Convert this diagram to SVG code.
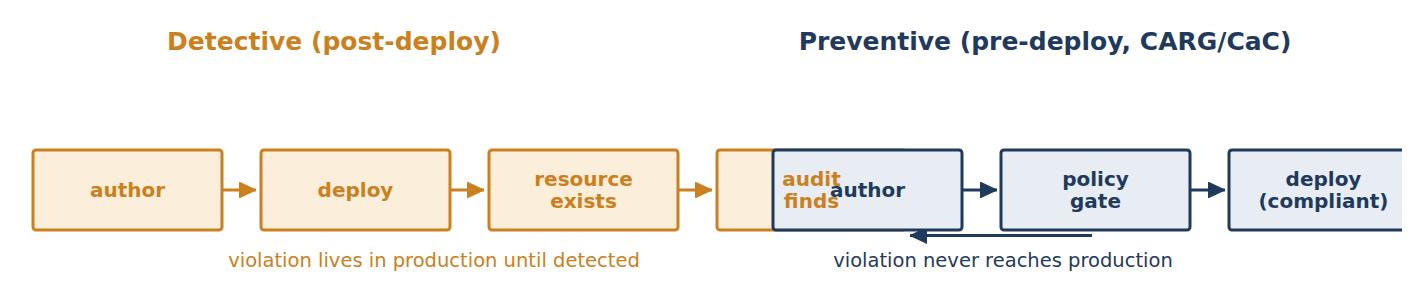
<svg xmlns="http://www.w3.org/2000/svg" width="1422" height="301" viewBox="0 0 1422 301">
<defs>
<style>
.t{font-family:"DejaVu Sans",sans-serif;}
.title{font-size:25px;font-weight:bold;text-anchor:middle;}
.lbl{font-size:20px;font-weight:bold;text-anchor:middle;}
.cap{font-size:19.5px;text-anchor:middle;}
.o{fill:#CB8020;}
.n{fill:#1F3A5C;}
.bo{fill:#FBEFDB;stroke:#CB8020;stroke-width:3;}
.bn{fill:#E8EDF4;stroke:#1F3A5C;stroke-width:3;}
.co{stroke:#CB8020;stroke-width:3;fill:none;}
.cn{stroke:#1F3A5C;stroke-width:3;fill:none;}
</style>
<marker id="ao" viewBox="0 0 17 16" refX="17" refY="8" markerWidth="17" markerHeight="16" markerUnits="userSpaceOnUse" orient="auto"><path d="M0,0L17,8L0,16z" fill="#CB8020" stroke="#CB8020" stroke-width="1" stroke-linejoin="round"/></marker>
<marker id="an" viewBox="0 0 17 16" refX="17" refY="8" markerWidth="17" markerHeight="16" markerUnits="userSpaceOnUse" orient="auto"><path d="M0,0L17,8L0,16z" fill="#1F3A5C" stroke="#1F3A5C" stroke-width="1" stroke-linejoin="round"/></marker>
<clipPath id="clip"><rect x="0" y="0" width="1402" height="301"/></clipPath>
</defs>
<rect width="1422" height="301" fill="#fff"/>
<g clip-path="url(#clip)">
<text class="t title o" x="334" y="50">Detective (post-deploy)</text>
<text class="t title n" x="1045" y="50">Preventive (pre-deploy, CARG/CaC)</text>
<g id="connectors">
<line class="co" x1="222" y1="190" x2="256" y2="190" marker-end="url(#ao)"/>
<line class="co" x1="450" y1="190" x2="484" y2="190" marker-end="url(#ao)"/>
<line class="co" x1="678" y1="190" x2="712" y2="190" marker-end="url(#ao)"/>
<line class="cn" x1="963" y1="190" x2="997" y2="190" marker-end="url(#an)"/>
<line class="cn" x1="1191" y1="190" x2="1225" y2="190" marker-end="url(#an)"/>
<line class="cn" x1="1092" y1="235.5" x2="910" y2="235.5" marker-end="url(#an)"/>
</g>
<g id="d-author"><rect class="bo" x="33" y="150" width="189" height="80" rx="3"/><text class="t lbl o" x="127.5" y="197">author</text></g>
<g id="d-deploy"><rect class="bo" x="261" y="150" width="189" height="80" rx="3"/><text class="t lbl o" x="355.5" y="197">deploy</text></g>
<g id="d-resource"><rect class="bo" x="489" y="150" width="189" height="80" rx="3"/><text class="t lbl o" x="583.5" y="186">resource</text><text class="t lbl o" x="583.5" y="208">exists</text></g>
<g id="d-audit"><rect class="bo" x="717" y="150" width="189" height="80" rx="3"/></g>
<g id="p-author"><rect class="bn" x="773" y="150" width="189" height="80" rx="3"/><text class="t lbl n" x="867.5" y="197">author</text></g>
<g id="d-audit-label"><text class="t lbl o" x="811.5" y="186">audit</text><text class="t lbl o" x="811.5" y="208">finds</text></g>
<g id="p-gate"><rect class="bn" x="1001" y="150" width="189" height="80" rx="3"/><text class="t lbl n" x="1095.5" y="186">policy</text><text class="t lbl n" x="1095.5" y="208">gate</text></g>
<g id="p-deploy"><rect class="bn" x="1229" y="150" width="189" height="80" rx="3"/><text class="t lbl n" x="1323.5" y="186">deploy</text><text class="t lbl n" x="1323.5" y="208">(compliant)</text></g>
<text class="t cap o" x="434" y="267">violation lives in production until detected</text>
<text class="t cap n" x="1003" y="267">violation never reaches production</text>
</g>
</svg>
